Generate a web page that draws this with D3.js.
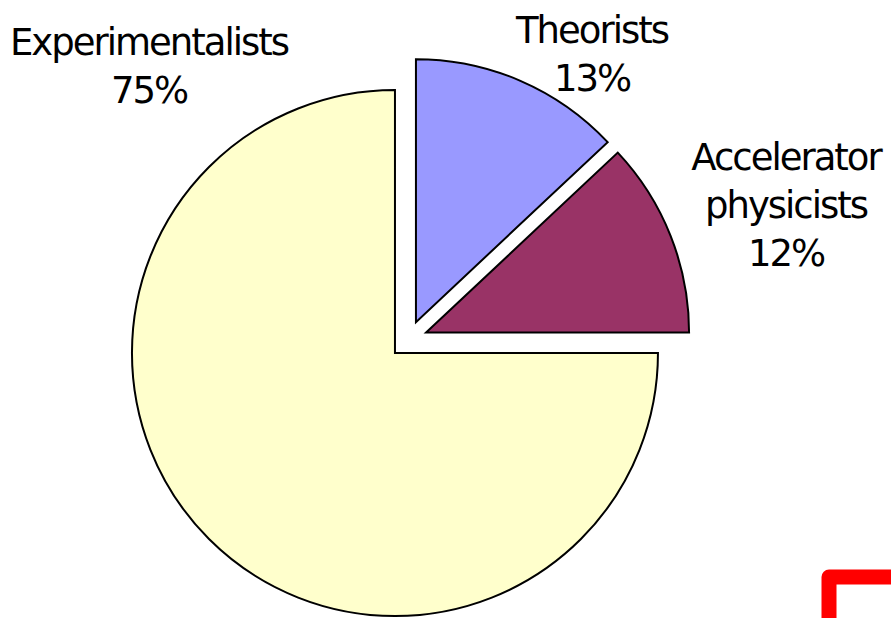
<!DOCTYPE html>
<html>
<head>
<meta charset="utf-8">
<script src="https://cdn.jsdelivr.net/npm/d3@7"></script>
<style>
  html, body { margin: 0; padding: 0; background: #fff; }
  svg { display: block; }
  text { font-family: "DejaVu Sans", sans-serif; font-size: 37px; letter-spacing: -2px; fill: #000; }
</style>
</head>
<body>
<svg id="chart" width="891" height="618"></svg>
<script>
// ---- data ----
const categories = ["Theorists", "Accelerator physicists", "Experimentalists"];
const values = [13, 12, 75];
const labelLines = [["Theorists", "13%"], ["Accelerator", "physicists", "12%"], ["Experimentalists", "75%"]];

// ---- layout / style ----
const colors = ["#9999FF", "#993366", "#FFFFCC"];
const center = [408.4, 339.6];
const radius = 263;
const explode = 19;
const labelAnchors = [[592, 43], [786, 170], [149, 55]]; // first-baseline anchor of each label
const lineHeight = 48;

const svg = d3.select("#chart");
const g = svg.append("g").attr("transform", `translate(${center[0]},${center[1]})`);

const pie = d3.pie().sort(null).value(d => d).startAngle(0).endAngle(2 * Math.PI);
const arc = d3.arc().innerRadius(0).outerRadius(radius);
const arcs = pie(values);

g.selectAll("path.slice")
  .data(arcs)
  .enter().append("path")
  .attr("class", "slice")
  .attr("d", arc)
  .attr("transform", d => {
    const a = (d.startAngle + d.endAngle) / 2;
    return `translate(${Math.sin(a) * explode},${-Math.cos(a) * explode})`;
  })
  .attr("fill", (d, i) => colors[i])
  .attr("stroke", "#000")
  .attr("stroke-width", 2)
  .attr("stroke-linejoin", "miter");

// labels
categories.forEach((c, i) => {
  const t = svg.append("text")
    .attr("text-anchor", "middle")
    .attr("x", labelAnchors[i][0])
    .attr("y", labelAnchors[i][1]);
  labelLines[i].forEach((line, j) => {
    t.append("tspan")
      .attr("x", labelAnchors[i][0])
      .attr("y", labelAnchors[i][1] + j * lineHeight)
      .text(line);
  });
});

// red corner mark
svg.append("path")
  .attr("d", "M829,630 L829,577 L900,577")
  .attr("fill", "none")
  .attr("stroke", "#FF0000")
  .attr("stroke-width", 15)
  .attr("stroke-linejoin", "round");
</script>
</body>
</html>
